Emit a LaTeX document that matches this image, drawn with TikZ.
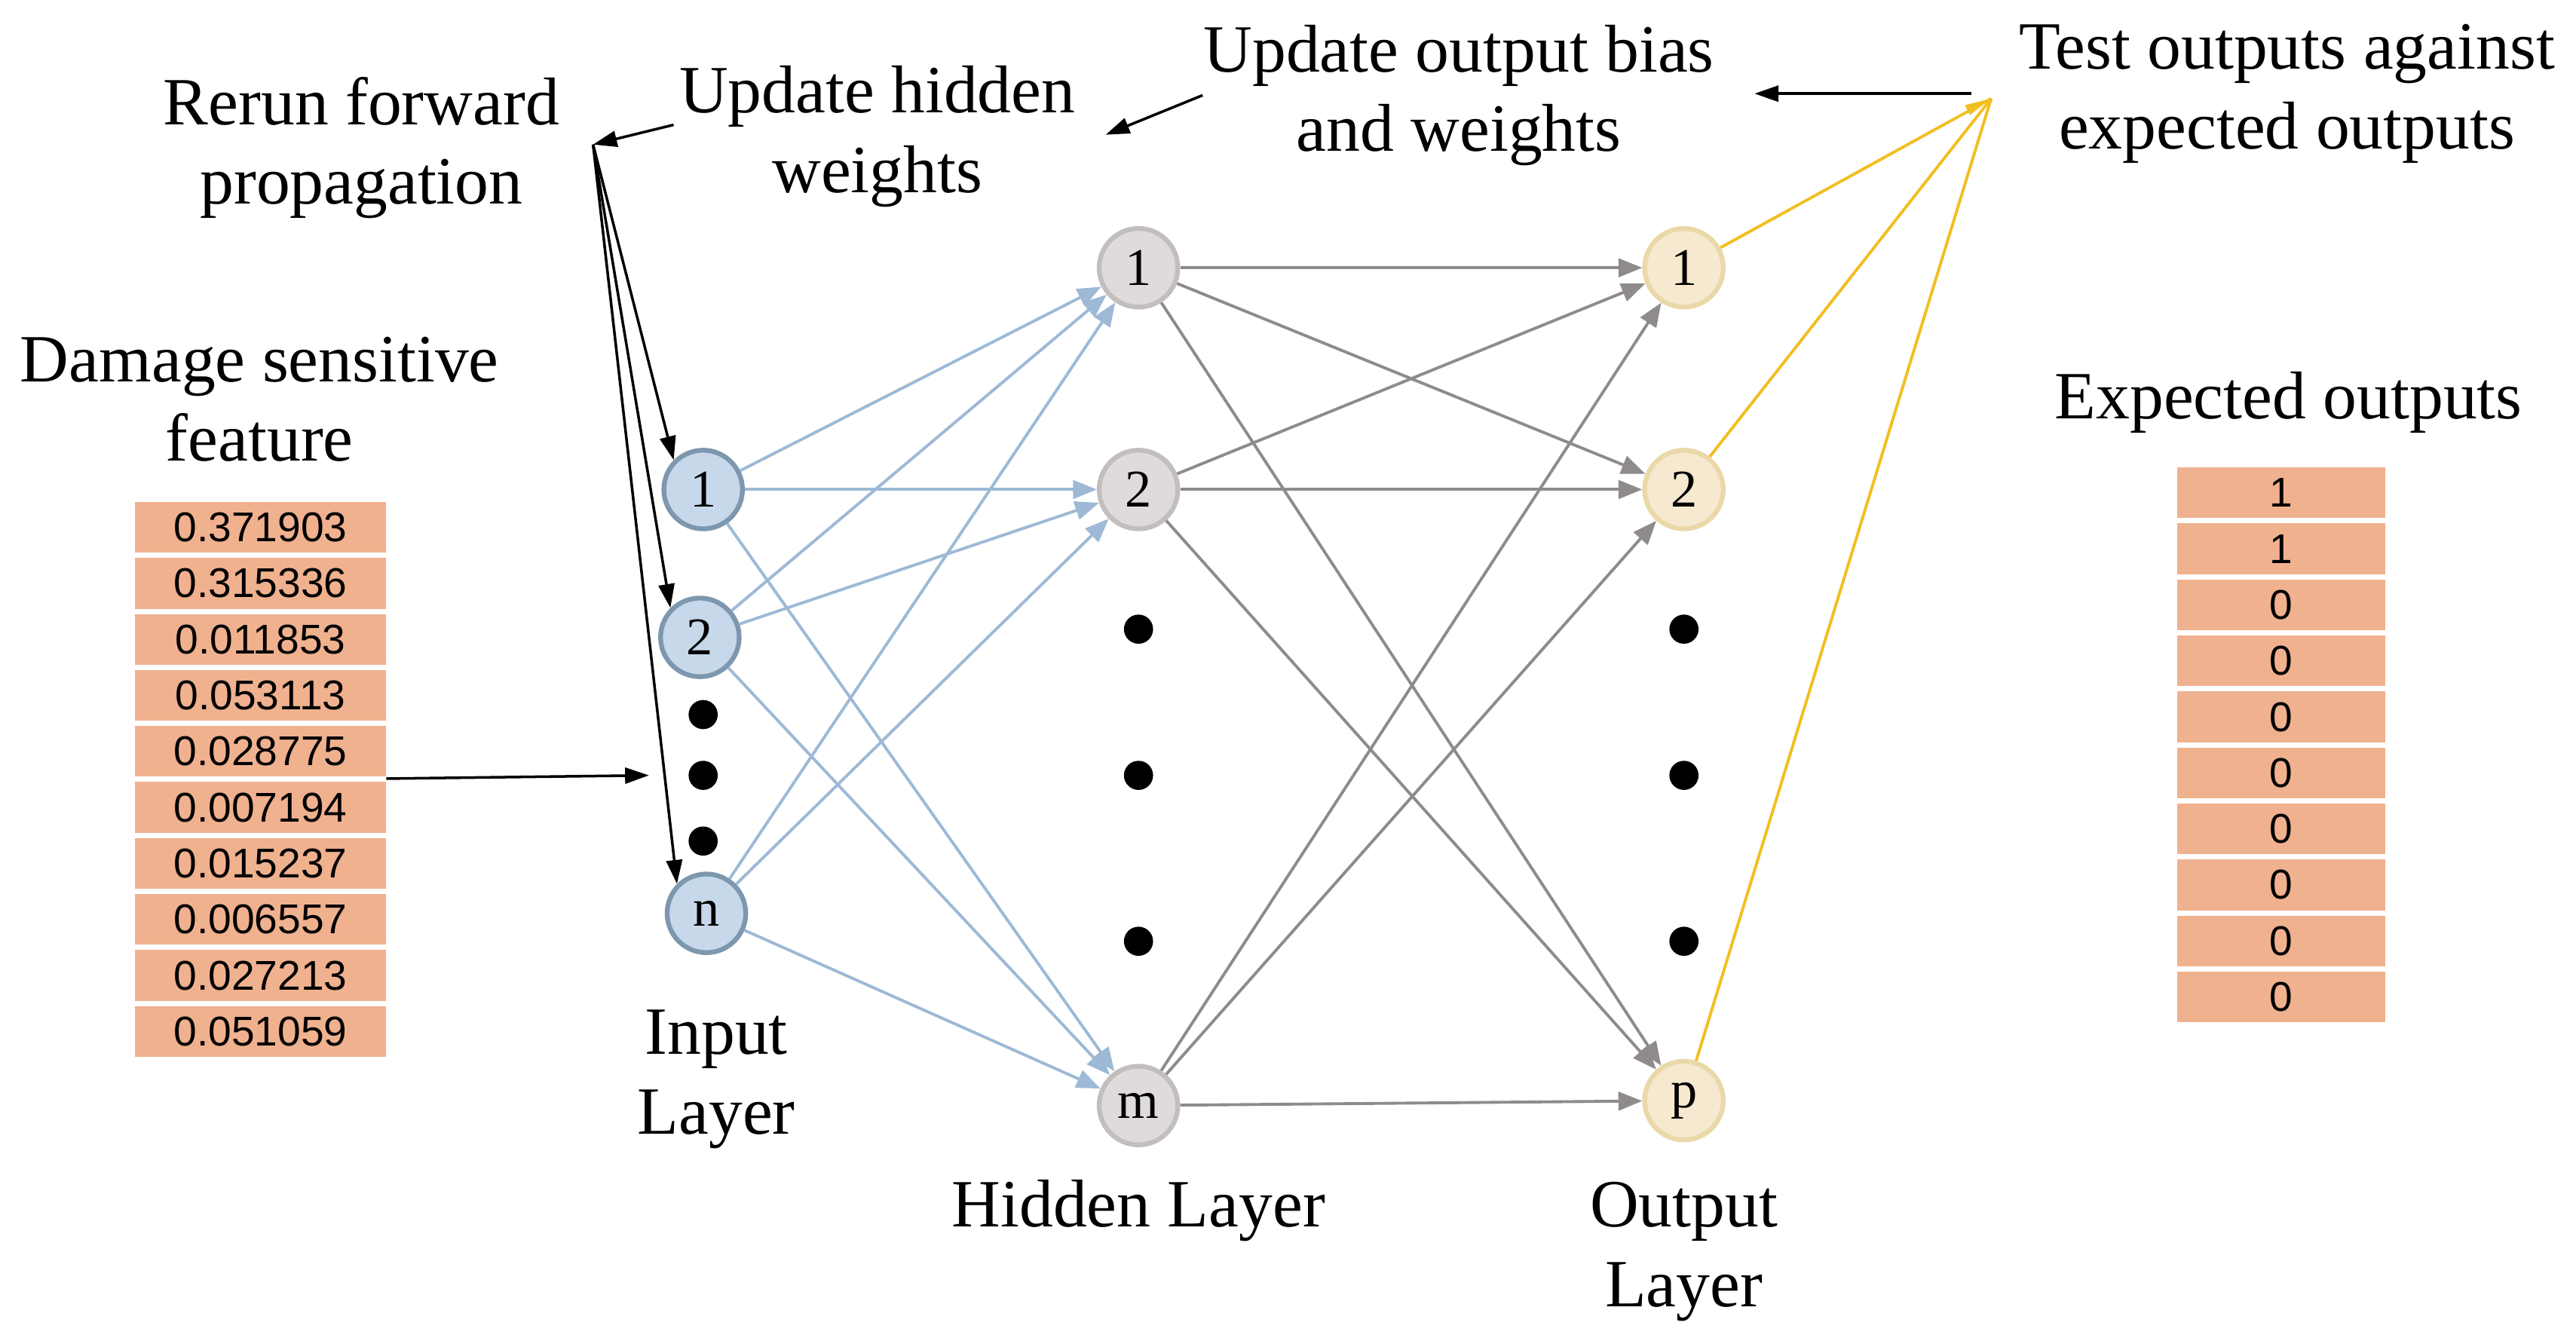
\documentclass[tikz,border=0pt]{standalone}
\usepackage{fontspec}
\setmainfont{Liberation Serif}
\newfontfamily\arialf{Liberation Sans}
\usetikzlibrary{arrows.meta}
\definecolor{inF}{HTML}{C6D8EA}\definecolor{inB}{HTML}{7D97AE}
\definecolor{hidF}{HTML}{DFDBDB}\definecolor{hidB}{HTML}{C2BEBE}
\definecolor{outF}{HTML}{F6E9D0}\definecolor{outB}{HTML}{EAD8A8}
\definecolor{blueE}{HTML}{9DB9D6}\definecolor{grayE}{HTML}{8F8B8B}
\definecolor{yel}{HTML}{F2BE22}\definecolor{cell}{HTML}{F0B18F}
\begin{document}
\begin{tikzpicture}[x=0.02179cm,y=-0.02179cm,
 neuron/.style={circle,minimum size=48*0.618pt,inner sep=0pt,line width=1.8pt,font=\fontsize{20}{20}\selectfont},
 inN/.style={neuron,fill=inF,draw=inB},
 hidN/.style={neuron,fill=hidF,draw=hidB},
 outN/.style={neuron,fill=outF,draw=outB},
 lbl/.style={font=\fontsize{25.5}{30}\selectfont,align=center},
 bE/.style={draw=blueE,line width=1.1pt,-{Triangle[length=9pt,width=7pt]}},
 gE/.style={draw=grayE,line width=1.1pt,-{Triangle[length=9pt,width=7pt]}},
 yE/.style={draw=yel,line width=1.1pt},
 kA/.style={draw=black,line width=1pt,-{Triangle[length=9pt,width=6pt]}},
 dot/.style={circle,fill=black,minimum size=11pt,inner sep=0pt},
 fcell/.style={fill=cell,minimum width=153*0.618pt,minimum height=31*0.618pt,inner sep=0pt,font=\arialf\fontsize{15.7}{15.7}\selectfont},
 ecell/.style={fill=cell,minimum width=127*0.618pt,minimum height=31*0.618pt,inner sep=0pt,font=\arialf\fontsize{15.7}{15.7}\selectfont}]
\fill[white] (0,0) rectangle (1568,818);
% neurons
\node[inN] (i1) at (428,298) {1};
\node[inN] (i2) at (426,388) {2};
\node[inN] (in) at (430,556) {n};
\node[hidN] (h1) at (693,163) {1};
\node[hidN] (h2) at (693,298) {2};
\node[hidN] (hm) at (693,673) {m};
\node[outN] (o1) at (1025,163) {1};
\node[outN] (o2) at (1025,298) {2};
\node[outN] (op) at (1025,670) {p};
\foreach \y [count=\k] in {435,472,512}{\node[dot] (di\k) at (428,\y) {};}
\foreach \y [count=\k] in {383,472,573}{\node[dot] (dh\k) at (693,\y) {}; \node[dot] (do\k) at (1025,\y) {};}
% edges
\foreach \a in {i1,i2,in}{\foreach \b in {h1,h2,hm}{\draw[bE] (\a) -- (\b);}}
\foreach \a in {h1,h2,hm}{\foreach \b in {o1,o2,op}{\draw[gE] (\a) -- (\b);}}
% labels
\node[lbl] (rerun) at (220,90) {Rerun forward\\propagation};
\node[lbl] (uhid) at (534,83) {Update hidden\\weights};
\node[lbl] (uout) at (888,58) {Update output bias\\and weights};
\node[lbl] (test) at (1392,57) {Test outputs against\\expected outputs};
\node[lbl] (dmg) at (158,243) {Damage sensitive\\feature};
\node[lbl] (exp) at (1393,245) {Expected outputs};
\node[lbl] (inl) at (436,657) {Input\\Layer};
\node[lbl] (hidl) at (693,737) {Hidden Layer};
\node[lbl] (outl) at (1025,762) {Output\\Layer};
% tables
\foreach \v [count=\k] in {0.371903,0.315336,0.011853,0.053113,0.028775,0.007194,0.015237,0.006557,0.027213,0.051059}{
  \node[fcell] (f\k) at (158.5,{304+17+(\k-1)*34.1}) {\v};}
\foreach \v [count=\k] in {1,1,0,0,0,0,0,0,0,0}{
  \node[ecell] (e\k) at (1388.5,{283+17+(\k-1)*34.1}) {\v};}
% black arrows
\coordinate (rp) at (361,88);
\coordinate (ih) at (395,472);
\coordinate (yt) at (1212,60);
\coordinate (uh0) at (410,76);
\draw[kA] (uh0) -- (rp);
\draw[kA] (rp) -- (i1.north west);
\draw[kA] (rp) -- (i2.north west);
\draw[kA] (rp) -- (in.north west);
\draw[kA] (f5.east|-0,474) -- (ih);
\coordinate (uo0) at (732,58); \coordinate (uh1) at (673,82);
\draw[kA] (uo0) -- (uh1);
\coordinate (t0) at (1200,57); \coordinate (t1) at (1068,57);
\draw[kA] (t0) -- (t1);
% yellow
\draw[yE] (o1) -- (yt);
\draw[yE] (o2) -- (yt);
\draw[yE] (op) -- (yt);
\fill[yel] (yt) -- ++(-16,4) -- ++(3,6) -- cycle;
\end{tikzpicture}
\end{document}
